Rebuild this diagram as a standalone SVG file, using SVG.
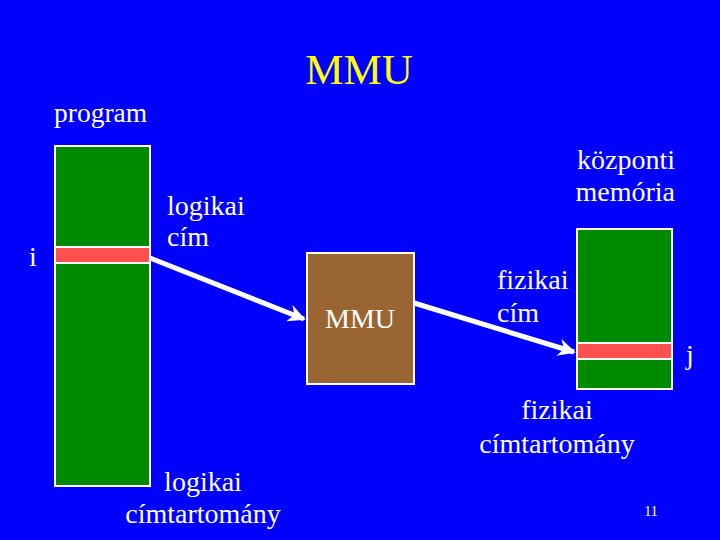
<svg xmlns="http://www.w3.org/2000/svg" width="720" height="540" viewBox="0 0 720 540">
<defs>
<style>
text{font-family:"Liberation Serif","Times New Roman",serif;fill:#fff;font-size:28px}
.mem{fill:#008a00;stroke:#fff;stroke-width:2}
.red{fill:#ff5050;stroke:#fff;stroke-width:2}
.con{stroke:#fff;stroke-width:5;fill:none;marker-end:url(#ah)}
</style>
<marker id="ah" viewBox="0 0 10 10" refX="9" refY="5" markerWidth="5" markerHeight="3.5" orient="auto" markerUnits="strokeWidth">
<path d="M0,0 L10,5 L0,10 L3,5 z" fill="#fff"/>
</marker>
</defs>
<rect width="720" height="540" fill="#0000ff"/>
<text x="359" y="84" text-anchor="middle" style="fill:#ffff00;font-size:43px">MMU</text>
<g id="program">
<text x="54" y="122" style="font-size:27.5px">program</text>
<rect class="mem" x="55" y="146" width="95" height="340"/>
<rect class="red" x="55" y="247" width="95" height="16"/>
<text x="29" y="266">i</text>
</g>
<g id="mmu">
<rect x="307" y="253" width="107" height="131" fill="#996633" stroke="#fff" stroke-width="2"/>
<text x="360" y="328" text-anchor="middle">MMU</text>
</g>
<g id="memory">
<text x="675" y="169" text-anchor="end">központi</text>
<text x="675" y="201" text-anchor="end">memória</text>
<rect class="mem" x="577" y="229" width="95" height="160"/>
<rect class="red" x="577" y="343" width="95" height="16"/>
<text x="686" y="364">j</text>
</g>
<g id="labels">
<text x="167" y="215">logikai</text>
<text x="167" y="246">cím</text>
<text x="497" y="289">fizikai</text>
<text x="497" y="322">cím</text>
<text x="557" y="419" text-anchor="middle">fizikai</text>
<text x="557" y="453" text-anchor="middle">címtartomány</text>
<text x="203" y="491" text-anchor="middle">logikai</text>
<text x="203" y="523" text-anchor="middle">címtartomány</text>
<text x="651" y="516" text-anchor="middle" style="font-size:14px">11</text>
</g>
<g id="connectors">
<line class="con" x1="150" y1="258" x2="304" y2="319"/>
<line class="con" x1="414" y1="303" x2="574" y2="352"/>
</g>
</svg>
